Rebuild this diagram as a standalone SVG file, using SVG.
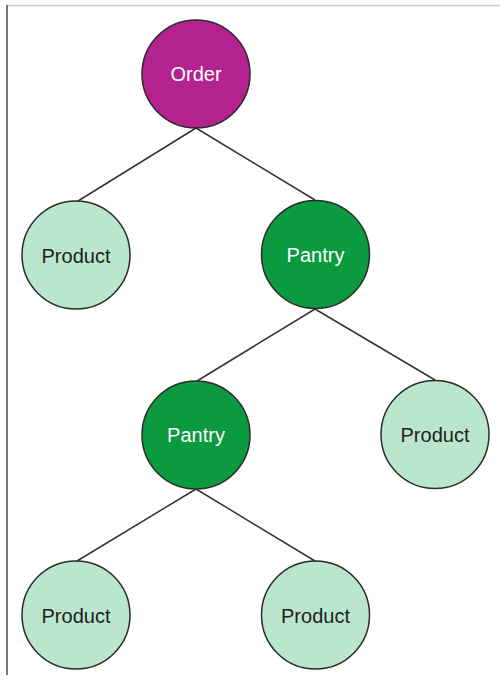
<svg xmlns="http://www.w3.org/2000/svg" width="500" height="681" viewBox="0 0 500 681">
<style>
.node circle{stroke:#2b2b2b;stroke-width:1.5}
.order circle{fill:#b3228f}
.pantry circle{fill:#0b9a40}
.product circle{fill:#b9e6cc}
text{font-family:"Liberation Sans",Arial,sans-serif;font-size:20px;text-anchor:middle}
.order text,.pantry text{fill:#ffffff}
.product text{fill:#222222}
#connectors line{stroke:#333333;stroke-width:1.5}
</style>
<rect width="500" height="681" fill="#ffffff"/>
<line x1="7" y1="5.5" x2="500" y2="5.5" stroke="#cccccc" stroke-width="1.5"/>
<line x1="7" y1="5" x2="7" y2="675" stroke="#777777" stroke-width="2"/>
<g id="connectors">
<line x1="196" y1="128" x2="78" y2="201"/>
<line x1="196" y1="128" x2="315" y2="200"/>
<line x1="315" y1="309" x2="197" y2="381"/>
<line x1="315" y1="309" x2="435" y2="380"/>
<line x1="196" y1="489" x2="77" y2="561"/>
<line x1="196" y1="489" x2="315" y2="561"/>
</g>
<g id="order" class="node order"><circle cx="196" cy="74" r="54"/><text x="196" y="81">Order</text></g>
<g id="product1" class="node product"><circle cx="76" cy="255" r="54"/><text x="76" y="262.5">Product</text></g>
<g id="pantry1" class="node pantry"><circle cx="315.5" cy="254.5" r="54"/><text x="315.5" y="261.5">Pantry</text></g>
<g id="pantry2" class="node pantry"><circle cx="196" cy="435" r="54"/><text x="196" y="442">Pantry</text></g>
<g id="product2" class="node product"><circle cx="435" cy="434.5" r="54"/><text x="435" y="442">Product</text></g>
<g id="product3" class="node product"><circle cx="76" cy="615" r="54"/><text x="76" y="622.5">Product</text></g>
<g id="product4" class="node product"><circle cx="315.5" cy="615" r="54"/><text x="315.5" y="622.5">Product</text></g>
</svg>
